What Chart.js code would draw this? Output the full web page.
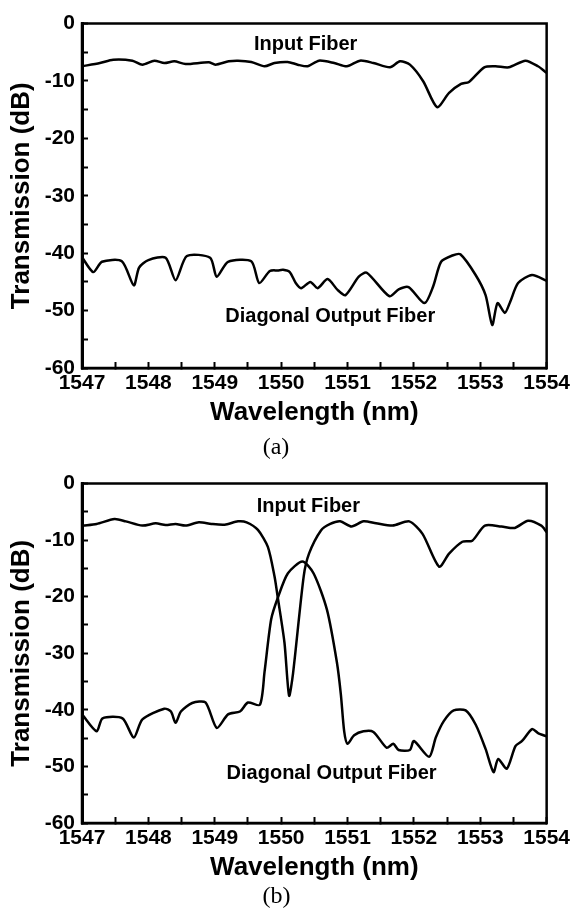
<!DOCTYPE html>
<html>
<head>
<meta charset="utf-8">
<script src="https://cdn.jsdelivr.net/npm/chart.js@4"></script>
<style>
  body { margin: 0; background: #fff; }
  canvas { display: block; }
</style>
</head>
<body>
<canvas id="chartA" width="581" height="460"></canvas>
<canvas id="chartB" width="581" height="450"></canvas>
<script>
// eixos
const xTicks = [1547, 1548, 1549, 1550, 1551, 1552, 1553, 1554];
const yTicks = [0, -10, -20, -30, -40, -50, -60];

// (a) fibra de entrada
const inputA_x = [1547.0, 1547.27, 1547.47, 1547.76, 1547.91, 1548.09, 1548.24, 1548.39, 1548.56, 1548.91, 1549.01, 1549.21, 1549.35, 1549.55, 1549.75, 1549.9, 1550.1, 1550.25, 1550.4, 1550.57, 1550.8, 1550.99, 1551.19, 1551.39, 1551.64, 1551.79, 1551.94, 1552.14, 1552.35, 1552.53, 1552.71, 1552.83, 1553.06, 1553.23, 1553.43, 1553.68, 1553.87, 1554.0];
const inputA_y = [-7.45, -6.88, -6.3, -6.47, -7.17, -6.47, -6.88, -6.59, -7.05, -6.76, -7.17, -6.59, -6.47, -6.7, -7.45, -6.88, -6.7, -7.17, -7.45, -6.47, -6.88, -7.45, -6.47, -6.88, -7.63, -6.59, -7.17, -10.05, -14.56, -12.08, -10.52, -10.17, -7.63, -7.45, -7.63, -6.47, -7.45, -8.6];

// (a) fibra de saida diagonal
const diagA_x = [1547.0, 1547.17, 1547.3, 1547.6, 1547.78, 1547.86, 1548.0, 1548.26, 1548.41, 1548.58, 1548.93, 1549.03, 1549.2, 1549.55, 1549.67, 1549.83, 1549.95, 1550.03, 1550.13, 1550.22, 1550.3, 1550.44, 1550.55, 1550.7, 1550.85, 1550.97, 1551.17, 1551.29, 1551.63, 1551.77, 1551.92, 1552.16, 1552.29, 1552.41, 1552.58, 1552.7, 1552.93, 1553.08, 1553.18, 1553.26, 1553.37, 1553.45, 1553.57, 1553.78, 1554.0];
const diagA_y = [-40.7, -43.3, -41.5, -41.4, -45.6, -42.5, -41.2, -40.8, -44.7, -40.5, -40.8, -44.1, -41.5, -41.4, -45.2, -43.1, -43.0, -42.9, -43.3, -45.2, -46.1, -45.0, -46.1, -44.5, -46.4, -47.3, -44.1, -43.4, -47.5, -46.3, -45.9, -48.7, -45.8, -41.5, -40.4, -40.2, -43.8, -47.3, -52.5, -48.7, -50.4, -48.5, -45.2, -43.8, -44.8];

// (b) fibra de entrada
const inputB_x = [1547.02, 1547.22, 1547.49, 1547.66, 1547.91, 1548.11, 1548.26, 1548.41, 1548.56, 1548.76, 1548.95, 1549.15, 1549.35, 1549.48, 1549.65, 1549.8, 1549.9, 1549.95, 1550.05, 1550.12, 1550.18, 1550.34, 1550.42, 1550.6, 1550.74, 1550.89, 1551.06, 1551.24, 1551.43, 1551.68, 1551.93, 1552.13, 1552.38, 1552.53, 1552.73, 1552.88, 1553.07, 1553.32, 1553.52, 1553.72, 1553.92, 1554.0];
const inputB_y = [-7.44, -7.15, -6.28, -6.69, -7.44, -7.04, -7.33, -7.15, -7.44, -6.86, -7.15, -7.27, -6.69, -6.86, -8.2, -11.2, -16.4, -20.2, -28.1, -37.5, -33.5, -16.4, -12.4, -8.3, -7.15, -6.69, -7.6, -6.69, -7.04, -7.44, -6.69, -8.9, -14.7, -12.4, -10.3, -10.1, -7.44, -7.6, -7.85, -6.57, -7.44, -8.6];

// (b) fibra de saida diagonal
const diagB_x = [1547.0, 1547.22, 1547.31, 1547.61, 1547.78, 1547.91, 1548.24, 1548.34, 1548.41, 1548.49, 1548.66, 1548.86, 1549.03, 1549.2, 1549.38, 1549.5, 1549.68, 1549.75, 1549.85, 1549.95, 1550.1, 1550.32, 1550.49, 1550.69, 1550.84, 1550.9, 1550.95, 1551.0, 1551.1, 1551.24, 1551.39, 1551.59, 1551.69, 1551.77, 1551.94, 1552.0, 1552.23, 1552.33, 1552.45, 1552.6, 1552.78, 1552.93, 1553.08, 1553.2, 1553.27, 1553.4, 1553.53, 1553.63, 1553.78, 1553.87, 1554.0];
const diagB_y = [-40.8, -43.8, -41.5, -41.5, -44.9, -41.7, -39.8, -40.3, -42.3, -40.3, -38.8, -38.7, -43.2, -40.8, -40.3, -38.7, -39.1, -33.3, -24.0, -20.2, -15.9, -13.8, -15.9, -22.3, -31.6, -37.3, -43.8, -46.0, -44.5, -43.8, -43.9, -46.7, -46.0, -47.1, -47.1, -45.5, -48.3, -44.9, -42.0, -40.1, -40.1, -42.6, -46.9, -51.0, -48.7, -50.4, -46.4, -45.5, -43.4, -44.1, -44.7];

const FONT = "'Liberation Sans', Arial, sans-serif";

const toPoints = (xs, ys) => xs.map((x, i) => ({ x: x, y: ys[i] }));

// moldura e rotulos das curvas
const framePlugin = {
    id: 'frame',
    afterDraw(chart, args, opts) {
        const { ctx, chartArea: a } = chart;
        ctx.save();
        ctx.strokeStyle = '#000';
        ctx.lineWidth = 2.5;
        ctx.strokeRect(a.left, a.top, a.right - a.left, a.bottom - a.top);
        ctx.fillStyle = '#000';
        ctx.font = 'bold 20px ' + FONT;
        ctx.textAlign = 'center';
        ctx.textBaseline = 'middle';
        opts.labels.forEach(l => {
            ctx.fillText(l.text, chart.scales.x.getPixelForValue(l.x), chart.scales.y.getPixelForValue(l.y));
        });
        ctx.restore();
    }
};

function makeChart(id, inX, inY, diX, diY, opts) {
    const ctx = document.getElementById(id).getContext('2d');
    const line = { borderColor: '#000', borderWidth: 2.5, pointRadius: 0, tension: 0.25, fill: false };
    return new Chart(ctx, {
        type: 'line',
        data: {
            datasets: [
                Object.assign({ label: 'Input Fiber', data: toPoints(inX, inY) }, line),
                Object.assign({ label: 'Diagonal Output Fiber', data: toPoints(diX, diY) }, line)
            ]
        },
        options: {
            responsive: false,
            animation: false,
            layout: { padding: { top: opts.top, right: opts.right, left: 0, bottom: 0 } },
            plugins: {
                legend: { display: false },
                tooltip: { enabled: false },
                title: {
                    display: true,
                    position: 'bottom',
                    text: opts.tag,
                    color: '#000',
                    font: { family: "'Liberation Serif', 'Times New Roman', serif", size: 24, weight: 'normal', lineHeight: 1 },
                    padding: { top: 0, bottom: opts.tagPad }
                },
                frame: { labels: opts.labels }
            },
            scales: {
                x: {
                    type: 'linear',
                    min: xTicks[0],
                    max: xTicks[xTicks.length - 1],
                    afterFit: s => { s.height = opts.xHeight; },
                    border: { display: true, color: '#000', width: 2.5 },
                    grid: { drawOnChartArea: false, drawTicks: true, tickLength: -6, tickWidth: 2, tickColor: '#000' },
                    ticks: {
                        stepSize: 0.5,
                        autoSkip: false,
                        maxRotation: 0,
                        padding: 11,
                        color: '#000',
                        font: { family: FONT, size: 21, weight: 'bold', lineHeight: 1 },
                        callback: v => xTicks.includes(v) ? String(v) : ''
                    },
                    title: {
                        display: true,
                        text: 'Wavelength (nm)',
                        color: '#000',
                        font: { family: FONT, size: 26, weight: 'bold', lineHeight: 1 },
                        padding: { top: 0, bottom: opts.xTitlePad }
                    }
                },
                y: {
                    min: yTicks[yTicks.length - 1],
                    max: yTicks[0],
                    afterFit: s => { s.width = 82; },
                    border: { display: true, color: '#000', width: 3 },
                    grid: { drawOnChartArea: false, drawTicks: true, tickLength: -6, tickWidth: 2, tickColor: '#000' },
                    ticks: {
                        stepSize: 5,
                        padding: 13,
                        color: '#000',
                        font: { family: FONT, size: 21, weight: 'bold', lineHeight: 1 },
                        callback: v => yTicks.includes(v) ? String(v) : ''
                    },
                    title: {
                        display: true,
                        text: 'Transmission (dB)',
                        color: '#000',
                        font: { family: FONT, size: 26, weight: 'bold', lineHeight: 1 },
                        padding: { top: 9, bottom: 0 }
                    }
                }
            }
        },
        plugins: [framePlugin]
    });
}

// grafico (a)
makeChart('chartA', inputA_x, inputA_y, diagA_x, diagA_y, {
    top: 22, right: 29, xHeight: 68, xTitlePad: 10, tag: '(a)', tagPad: 0,
    labels: [
        { text: 'Input Fiber', x: 1550.37, y: -3.6 },
        { text: 'Diagonal Output Fiber', x: 1550.74, y: -51.1 }
    ]
});

// grafico (b)
makeChart('chartB', inputB_x, inputB_y, diagB_x, diagB_y, {
    top: 19, right: 28, xHeight: 62, xTitlePad: 4, tag: '(b)', tagPad: 1,
    labels: [
        { text: 'Input Fiber', x: 1550.41, y: -4.0 },
        { text: 'Diagonal Output Fiber', x: 1550.76, y: -51.3 }
    ]
});
</script>
</body>
</html>
